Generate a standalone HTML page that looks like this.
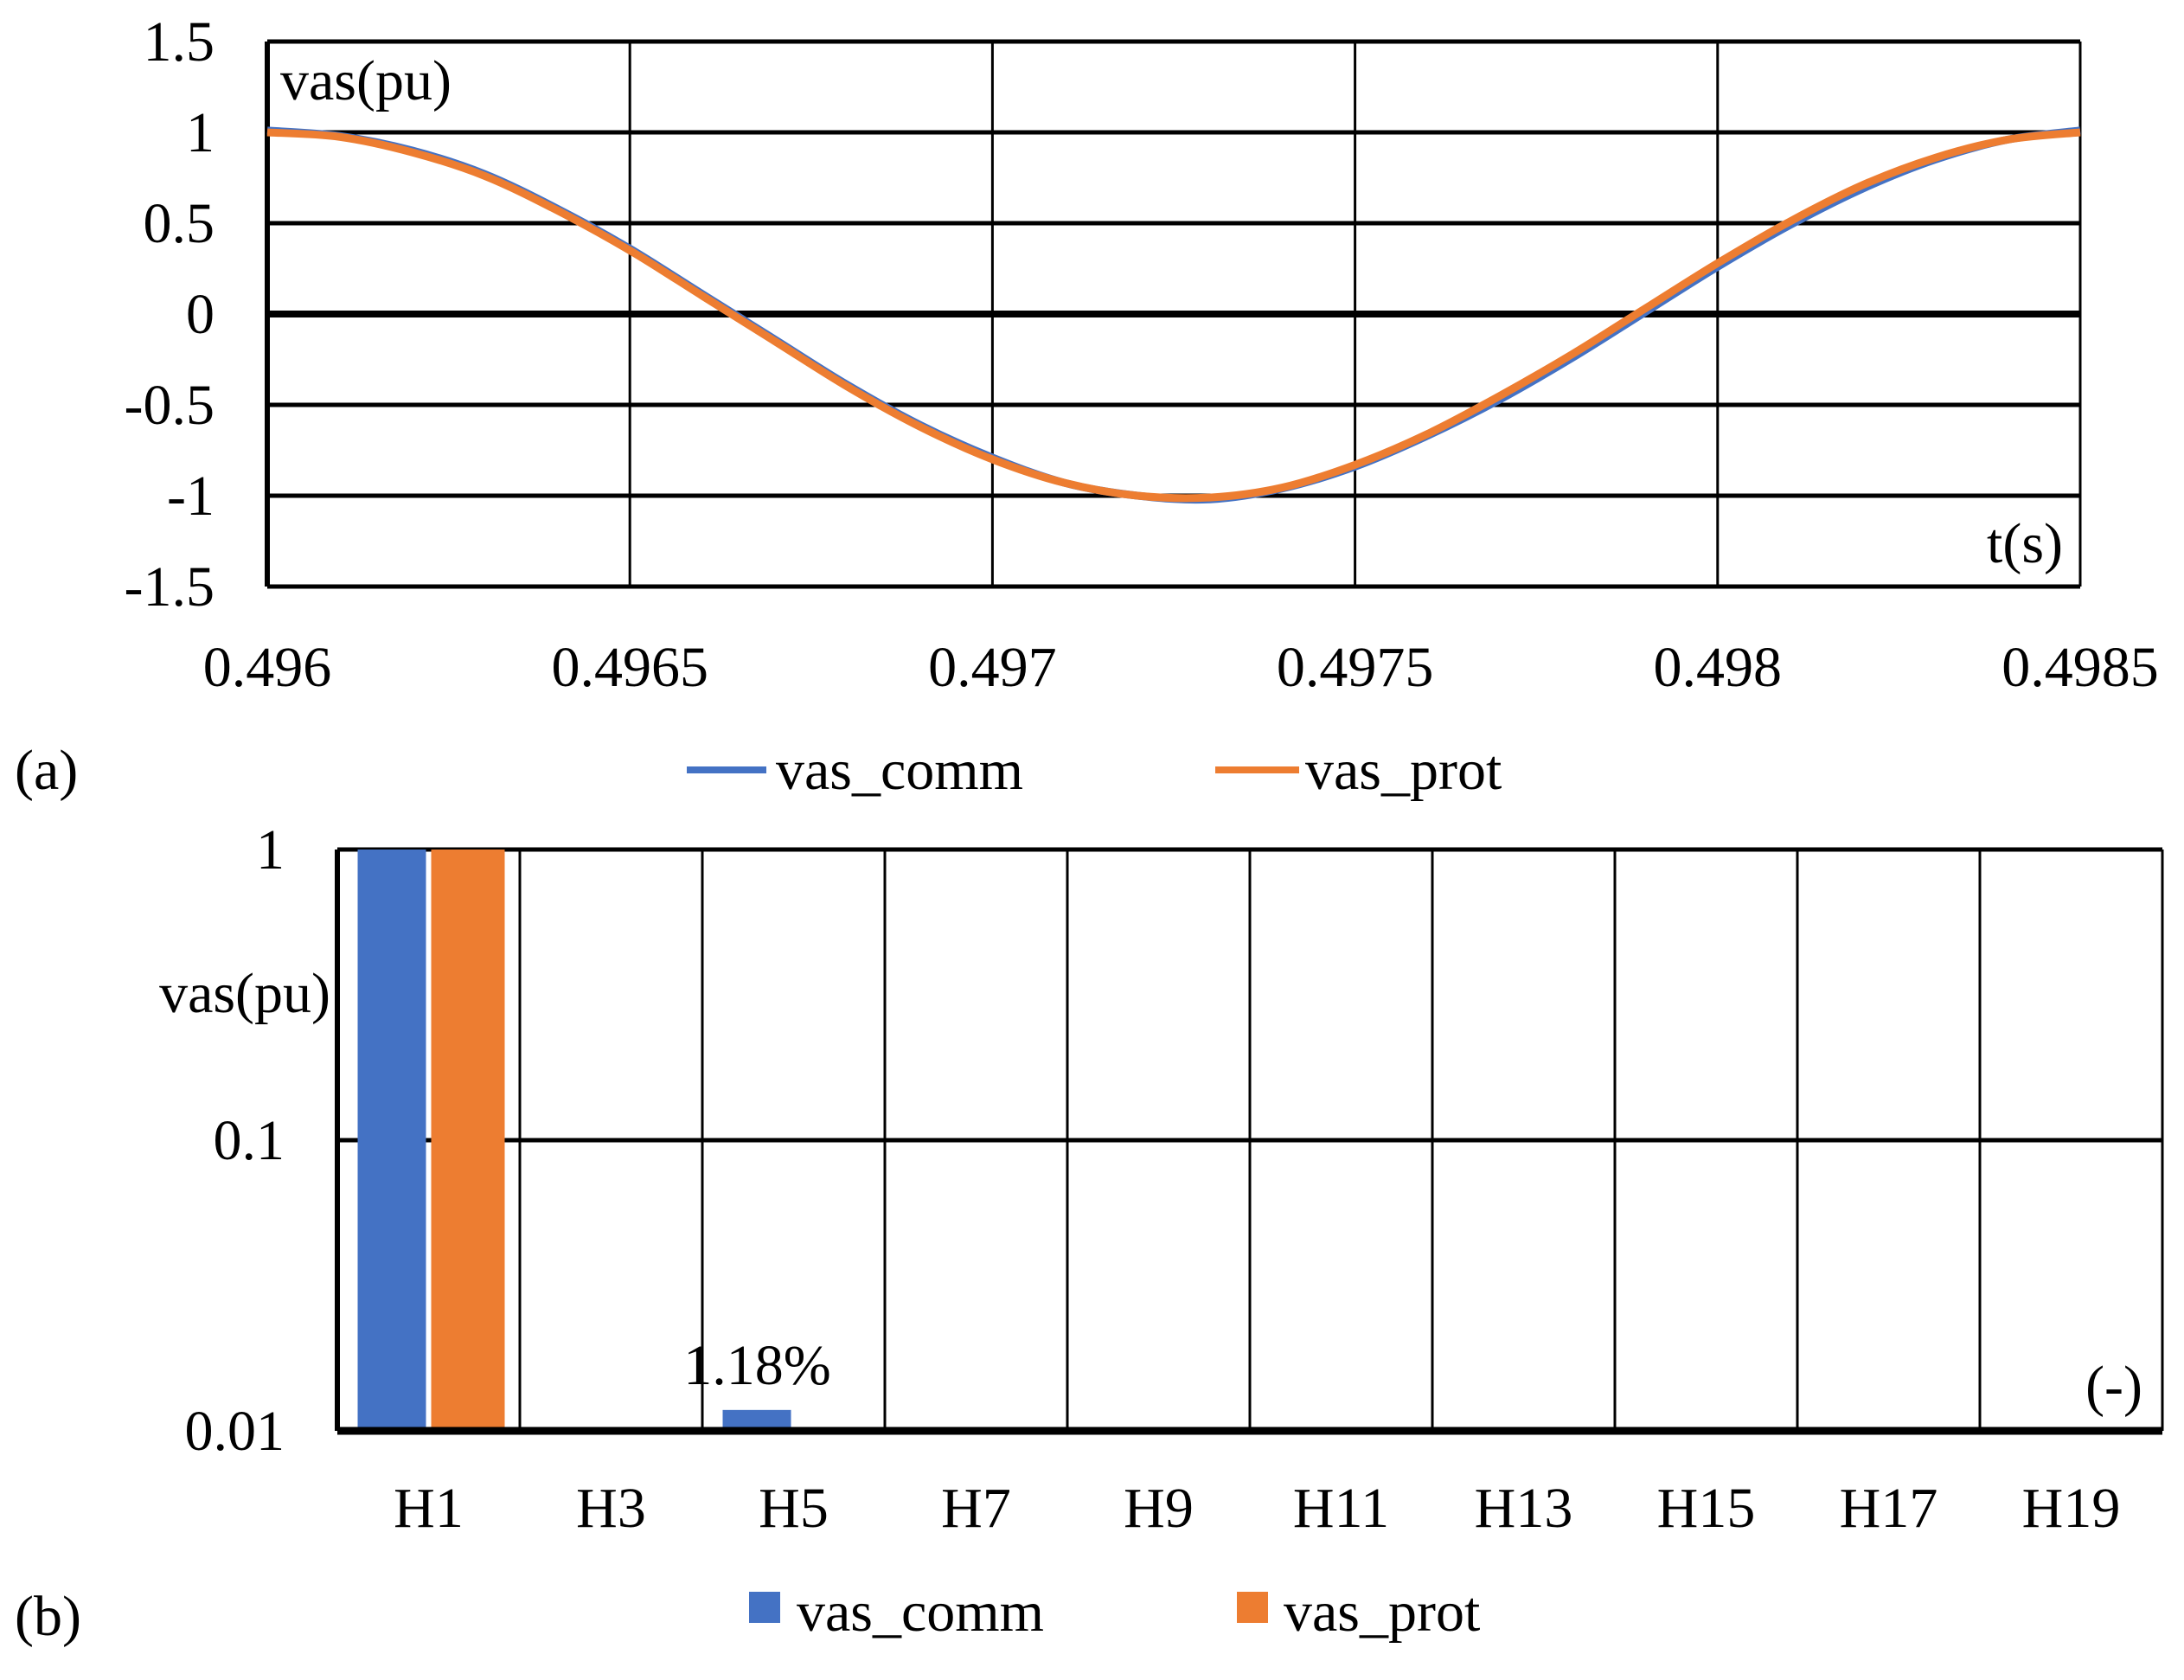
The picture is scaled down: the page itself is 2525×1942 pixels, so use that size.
<!DOCTYPE html>
<html><head><meta charset="utf-8"><style>
html,body{margin:0;padding:0;background:#fff;}
svg{display:block;font-family:"Liberation Serif",serif;}
</style></head><body>
<svg id="fig" width="2525" height="1942" viewBox="0 0 2525 1942" xmlns="http://www.w3.org/2000/svg">
<g id="chartA"></g>
<g id="chartB"></g>
</svg>
<script>
// ---- Chart (a) data ----
const tStart = 0.496, tStep = 0.0001;
const vasComm = [1.01,0.98,0.90,0.77,0.58,0.36,0.11,-0.14,-0.39,-0.61,-0.79,-0.93,-1.0,-1.02,-0.96,-0.84,-0.67,-0.47,-0.24,0.01,0.26,0.49,0.69,0.85,0.96,1.01];
const vasProt = [1.0,0.975,0.89,0.76,0.57,0.35,0.10,-0.15,-0.40,-0.62,-0.80,-0.93,-1.0,-1.01,-0.955,-0.83,-0.66,-0.45,-0.22,0.03,0.28,0.51,0.71,0.86,0.96,1.0];
const aYTicks = [1.5,1,0.5,0,-0.5,-1,-1.5];
const aYLabels = ["1.5","1","0.5","0","-0.5","-1","-1.5"];
const aXTicks = [0.496,0.4965,0.497,0.4975,0.498,0.4985];
const aXLabels = ["0.496","0.4965","0.497","0.4975","0.498","0.4985"];
// ---- Chart (b) data ----
const harmonics = ["H1","H3","H5","H7","H9","H11","H13","H15","H17","H19"];
const hComm = [1,0,0.0118,0,0,0,0,0,0,0];
const hProt = [1,0,0,0,0,0,0,0,0,0];
const bYTicks = [1,0.1,0.01];
const bYLabels = ["1","0.1","0.01"];

const NS="http://www.w3.org/2000/svg";
function mk(parent,tag,attrs,text){const e=document.createElementNS(NS,tag);for(const k in attrs)e.setAttribute(k,attrs[k]);if(text!==undefined)e.textContent=text;parent.appendChild(e);return e;}
const BLUE="#4472c4",ORANGE="#ed7d31";
const FS=66;

// ---- Chart A ----
const A=document.getElementById('chartA');
const aL=309,aR=2405,aT=48,aB=678;
const ax=t=>aL+(t-0.496)/(0.4985-0.496)*(aR-aL);
const ay=v=>aT+(1.5-v)/3*(aB-aT);
aYTicks.forEach((v,i)=>{
  const ln=mk(A,'line',{x1:aL,x2:aR,y1:ay(v),y2:ay(v),stroke:'#000','stroke-width':v===0?8:5});
  
  
  const tx=mk(A,'text',{x:248,y:ay(v)+22,'text-anchor':'end','font-size':FS},aYLabels[i]);
  
  
});
aXTicks.forEach((t,i)=>{
  const ln=mk(A,'line',{x1:ax(t),x2:ax(t),y1:aT,y2:aB,stroke:'#000','stroke-width':i===0?6:3});
  
  
  const tx=mk(A,'text',{x:ax(t),y:793,'text-anchor':'middle','font-size':FS},aXLabels[i]);
  
  
});
function smoothPath(vals){
  const p=vals.map((v,i)=>[ax(tStart+i*tStep),ay(v)]);
  let d=`M${p[0][0]},${p[0][1]}`;
  for(let i=0;i<p.length-1;i++){
    const p0=p[Math.max(0,i-1)],p1=p[i],p2=p[i+1],p3=p[Math.min(p.length-1,i+2)];
    const c1=[p1[0]+(p2[0]-p0[0])/6,p1[1]+(p2[1]-p0[1])/6];
    const c2=[p2[0]-(p3[0]-p1[0])/6,p2[1]-(p3[1]-p1[1])/6];
    d+=` C${c1[0]},${c1[1]} ${c2[0]},${c2[1]} ${p2[0]},${p2[1]}`;
  }
  return d;
}
const lc=mk(A,'path',{d:smoothPath(vasComm),fill:'none',stroke:BLUE,'stroke-width':9});


const lp=mk(A,'path',{d:smoothPath(vasProt),fill:'none',stroke:ORANGE,'stroke-width':9});


let t;
t=mk(A,'text',{x:324,y:115,'font-size':FS},'vas(pu)');

t=mk(A,'text',{x:2385,y:650,'text-anchor':'end','font-size':FS},'t(s)');

t=mk(A,'text',{x:17,y:912,'font-size':FS},'(a)');

let g=mk(A,'g',{});

mk(g,'line',{x1:794,x2:886,y1:890,y2:890,stroke:BLUE,'stroke-width':8});
mk(g,'text',{x:897,y:912,'font-size':FS},'vas_comm');
g=mk(A,'g',{});

mk(g,'line',{x1:1405,x2:1502,y1:890,y2:890,stroke:ORANGE,'stroke-width':8});
mk(g,'text',{x:1509,y:912,'font-size':FS},'vas_prot');

// ---- Chart B ----
const B=document.getElementById('chartB');
const bL=390,bR=2500,bT=982,bB=1654;
const by=v=>bB-(Math.log10(v)+2)/2*(bB-bT);
const cw=(bR-bL)/harmonics.length;
bYTicks.forEach((v,i)=>{
  const ln=mk(B,'line',{x1:bL,x2:bR,y1:by(v),y2:by(v),stroke:'#000','stroke-width':v===0.01?9:5});
  
  
  const tx=mk(B,'text',{x:329,y:by(v)+22,'text-anchor':'end','font-size':FS},bYLabels[i]);
  
  
});
for(let i=0;i<=harmonics.length;i++){
  const ln=mk(B,'line',{x1:bL+i*cw,x2:bL+i*cw,y1:bT,y2:bB,stroke:'#000','stroke-width':i===0?6:3});
  
  
}
harmonics.forEach((h,i)=>{
  const cx=bL+(i+0.5)*cw;
  if(hComm[i]>0.01){
    const r=mk(B,'rect',{x:cx-82,y:by(hComm[i]),width:79,height:bB-by(hComm[i]),fill:BLUE});
    
    
  }
  if(hProt[i]>0.01){
    const r=mk(B,'rect',{x:cx+3,y:by(hProt[i]),width:85,height:bB-by(hProt[i]),fill:ORANGE});
    
    
  }
  const tx=mk(B,'text',{x:cx,y:1765,'text-anchor':'middle','font-size':FS},h);
  
  
});
mk(B,'line',{x1:bL,x2:bR,y1:bB,y2:bB,stroke:'#000','stroke-width':9});
mk(B,'line',{x1:bL,x2:bL,y1:bT,y2:bB,stroke:'#000','stroke-width':6});
t=mk(B,'text',{x:bL+2.5*cw-42,y:1600,'text-anchor':'middle','font-size':FS},(hComm[2]*100).toFixed(2)+'%');

t=mk(B,'text',{x:2477,y:1624,'text-anchor':'end','font-size':FS},'(-)');

t=mk(B,'text',{x:382,y:1170,'text-anchor':'end','font-size':FS},'vas(pu)');

t=mk(B,'text',{x:17,y:1890,'font-size':FS},'(b)');

g=mk(B,'g',{});

mk(g,'rect',{x:866,y:1840,width:36,height:36,fill:BLUE});
mk(g,'text',{x:921,y:1885,'font-size':FS},'vas_comm');
g=mk(B,'g',{});

mk(g,'rect',{x:1430,y:1840,width:36,height:36,fill:ORANGE});
mk(g,'text',{x:1484,y:1885,'font-size':FS},'vas_prot');
</script>
</body></html>
